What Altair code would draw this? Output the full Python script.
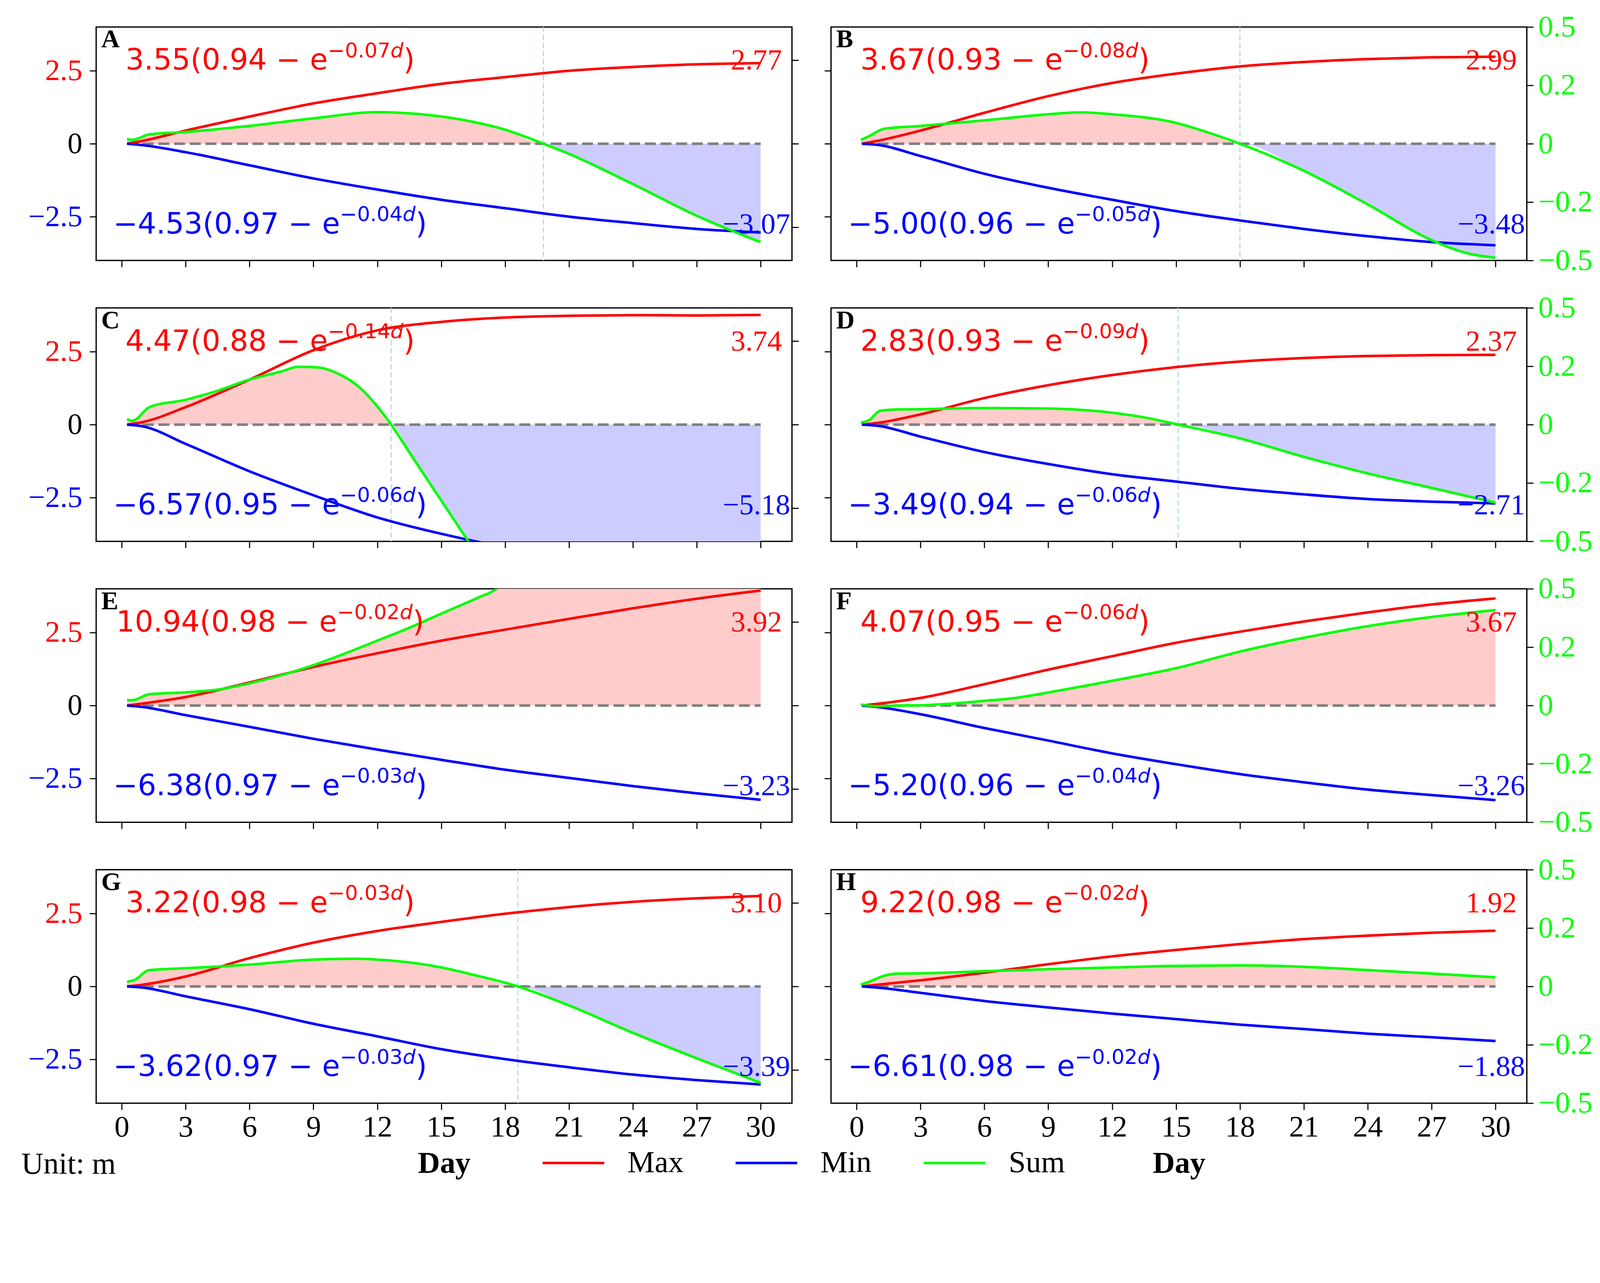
import altair as alt
import pandas as pd

PANELS = ["A", "B", "C", "D", "E", "F", "G", "H"]

# day grid shared by the Max / Min curves
DAYS = [0.25, 1, 3, 6, 9, 12, 15, 18, 21, 24, 27, 30]

MAX_A = [0, 0.10, 0.45, 0.93, 1.38, 1.73, 2.05, 2.28, 2.50, 2.63, 2.72, 2.76]
MIN_A = [0, -0.05, -0.29, -0.74, -1.19, -1.57, -1.92, -2.21, -2.50, -2.72, -2.92, -3.04]
MAX_B = [0, 0.10, 0.45, 1.06, 1.63, 2.08, 2.40, 2.65, 2.80, 2.90, 2.96, 2.98]
MIN_B = [0, -0.04, -0.42, -1.03, -1.51, -1.92, -2.31, -2.63, -2.92, -3.17, -3.37, -3.48]
MAX_C = [0, 0.09, 0.60, 1.54, 2.55, 3.23, 3.52, 3.67, 3.73, 3.75, 3.74, 3.76]
MIN_C = [0, -0.06, -0.66, -1.60, -2.42, -3.18, -3.74, -4.20, -4.55, -4.80, -5.00, -5.18]
MAX_D = [0, 0.06, 0.35, 0.91, 1.35, 1.70, 1.97, 2.16, 2.28, 2.35, 2.38, 2.39]
MIN_D = [0, -0.04, -0.41, -0.94, -1.35, -1.70, -1.95, -2.20, -2.39, -2.55, -2.64, -2.70]
MAX_E = [0, 0.07, 0.29, 0.79, 1.32, 1.79, 2.22, 2.60, 2.97, 3.33, 3.66, 3.94]
MIN_E = [0, -0.05, -0.33, -0.73, -1.14, -1.51, -1.86, -2.20, -2.48, -2.76, -3.01, -3.23]
MAX_F = [0, 0.06, 0.26, 0.73, 1.23, 1.69, 2.15, 2.53, 2.88, 3.19, 3.46, 3.67]
MIN_F = [0, -0.05, -0.30, -0.77, -1.20, -1.64, -2.01, -2.35, -2.63, -2.88, -3.07, -3.24]
MAX_G = [0, 0.06, 0.34, 0.97, 1.50, 1.90, 2.21, 2.49, 2.72, 2.90, 3.02, 3.10]
MIN_G = [0, -0.04, -0.34, -0.78, -1.28, -1.71, -2.15, -2.49, -2.77, -3.02, -3.21, -3.36]
MAX_H = [0, 0.06, 0.21, 0.47, 0.76, 1.03, 1.25, 1.45, 1.62, 1.74, 1.84, 1.91]
MIN_H = [0, -0.04, -0.22, -0.50, -0.72, -0.93, -1.12, -1.31, -1.46, -1.62, -1.74, -1.87]

# Sum curves, in units of each panel's right-hand axis
SUM_A_DAYS = [0.25, 0.5, 1.3, 3, 6, 9, 12, 13.5, 15, 17, 18, 19.8, 21, 24, 27, 30]
SUM_A = [0.028, 0.023, 0.056, 0.070, 0.107, 0.152, 0.189, 0.182, 0.163, 0.117, 0.084, 0,
         -0.061, -0.242, -0.432, -0.590]
SUM_B_DAYS = [0.2, 0.6, 1.3, 3, 6, 9, 10.5, 12, 15, 16.5, 18, 21, 24, 27, 28.5, 30]
SUM_B = [0.016, 0.033, 0.064, 0.076, 0.100, 0.126, 0.134, 0.126, 0.089, 0.048, 0,
         -0.116, -0.260, -0.413, -0.465, -0.489]
SUM_C_DAYS = [0.25, 0.5, 1.3, 3, 4.5, 6, 7.5, 8.3, 9.2, 10.2, 11.2, 12, 12.65, 13.5, 15, 16.5,
              18, 21, 24, 27, 30]
SUM_C = [0.033, 0.023, 0.105, 0.149, 0.203, 0.270, 0.319, 0.347, 0.343, 0.303, 0.219, 0.109, 0,
         -0.165, -0.455, -0.740, -1.000, -1.490, -1.930, -2.280, -2.630]
SUM_D_DAYS = [0.2, 0.6, 1.1, 2, 3, 6, 9, 12, 13.5, 15.1, 18, 21, 24, 27, 30]
SUM_D = [0.008, 0.020, 0.059, 0.065, 0.066, 0.071, 0.069, 0.051, 0.031, 0,
         -0.059, -0.138, -0.209, -0.271, -0.334]
SUM_E_DAYS = [0.25, 0.5, 1.3, 3, 4.5, 6, 7.5, 9, 10.5, 12, 13.5, 15, 16.8, 17.6, 18, 21, 24, 27, 30]
SUM_E = [0.032, 0.032, 0.068, 0.079, 0.095, 0.133, 0.182, 0.242, 0.313, 0.389, 0.466, 0.551,
         0.651, 0.700, 0.750, 1.050, 1.370, 1.680, 2.010]
SUM_F_DAYS = [0.2, 1, 2, 3, 4.5, 6, 7.5, 9, 12, 15, 18, 21, 24, 27, 30]
SUM_F = [0.004, -0.003, 0, 0.001, 0.008, 0.020, 0.033, 0.056, 0.106, 0.160, 0.231, 0.290,
         0.340, 0.379, 0.409]
SUM_G_DAYS = [0.25, 0.6, 1.3, 3, 6, 9, 11, 12, 15, 16.5, 18.6, 21, 24, 27, 30]
SUM_G = [0.028, 0.039, 0.098, 0.109, 0.131, 0.161, 0.166, 0.161, 0.114, 0.070, 0,
         -0.114, -0.278, -0.431, -0.578]
SUM_H_DAYS = [0.2, 0.6, 1.3, 2, 3, 6, 9, 12, 15, 18, 21, 24, 27, 30]
SUM_H = [0.008, 0.020, 0.046, 0.055, 0.056, 0.065, 0.074, 0.081, 0.088, 0.090, 0.084,
         0.070, 0.055, 0.039]

ZERO_DAYS = [0.25, 30]
CROSS_DAYS = [19.8, 18.0, 12.65, 15.1, None, None, 18.6, None]

TOP_COEF = ["3.55", "3.67", "4.47", "2.83", "10.94", "4.07", "3.22", "9.22"]
TOP_CONST = ["0.94", "0.93", "0.88", "0.93", "0.98", "0.95", "0.98", "0.98"]
TOP_RATE = ["0.07", "0.08", "0.14", "0.09", "0.02", "0.06", "0.03", "0.02"]
BOT_COEF = ["−4.53", "−5.00", "−6.57", "−3.49", "−6.38", "−5.20", "−3.62", "−6.61"]
BOT_CONST = ["0.97", "0.96", "0.95", "0.94", "0.97", "0.96", "0.97", "0.98"]
BOT_RATE = ["0.04", "0.05", "0.06", "0.06", "0.03", "0.04", "0.03", "0.02"]
END_MAX = ["2.77", "2.99", "3.74", "2.37", "3.92", "3.67", "3.10", "1.92"]
END_MIN = ["−3.07", "−3.48", "−5.18", "−2.71", "−3.23", "−3.26", "−3.39", "−1.88"]

MAXES = [MAX_A, MAX_B, MAX_C, MAX_D, MAX_E, MAX_F, MAX_G, MAX_H]
MINS = [MIN_A, MIN_B, MIN_C, MIN_D, MIN_E, MIN_F, MIN_G, MIN_H]
SUMS = [SUM_A, SUM_B, SUM_C, SUM_D, SUM_E, SUM_F, SUM_G, SUM_H]
SUM_DAYS = [SUM_A_DAYS, SUM_B_DAYS, SUM_C_DAYS, SUM_D_DAYS, SUM_E_DAYS, SUM_F_DAYS,
            SUM_G_DAYS, SUM_H_DAYS]

RED, BLUE, GREEN = "#ff0000", "#0000ff", "#00ff00"
SERIF, SANS = "Liberation Serif", "DejaVu Sans"
PW, PH = 1907, 640
X_DOMAIN = [-1.2, 31.47]
FS, SUP_FS = 80, 56
LW = 7

# advance widths of DejaVu Sans (em), used to lay out the formula pieces
SANS_W = {".": 0.3179, "(": 0.3901, ")": 0.3901, " ": 0.3179, "−": 0.8379, "e": 0.6152,
          "d": 0.6348}


def sans_width(s, size):
    return sum(SANS_W.get(c, 0.6362) for c in s) * size


COLOR = alt.Color(
    "series:N",
    scale=alt.Scale(domain=["Max", "Min", "Sum"], range=[RED, BLUE, GREEN]),
    legend=alt.Legend(
        orient="none", legendX=1220, legendY=3026, direction="horizontal", title=None,
        symbolType="stroke", symbolSize=28561, symbolStrokeWidth=LW, labelFont=SERIF,
        labelFontSize=84, labelColor="black", labelOffset=60, columnPadding=128, padding=0,
    ),
)


def formula_rows(coef, const, rate, yb, col):
    main = f"{coef}({const} − e"
    sup = f"−{rate}"
    total = sans_width(main, FS) + sans_width(sup + "d", SUP_FS) + sans_width(")", FS)
    x0 = 0.25 * PW - total / 2
    xs = x0 + sans_width(main, FS)
    xd = xs + sans_width(sup, SUP_FS)
    xp = xd + sans_width("d", SUP_FS)
    big = [(x0, yb, main, col), (xp, yb, ")", col)]
    small = [(xs, yb - 34, sup, col)]
    ital = [(xd, yb - 34, "d", col)]
    return big, small, ital


def panel(i):
    row, col = divmod(i, 2)
    left = col == 0
    bottom = row == 3
    n = len(DAYS)

    lines_df = pd.DataFrame({
        "day": DAYS * 2,
        "value": MAXES[i] + MINS[i],
        "series": ["Max"] * n + ["Min"] * n,
    })
    sum_df = pd.DataFrame({"day": SUM_DAYS[i], "sum": SUMS[i]})
    sum_df["series"] = "Sum"
    sum_df["pos"] = sum_df["sum"].clip(lower=0)
    sum_df["neg"] = sum_df["sum"].clip(upper=0)
    zero_df = pd.DataFrame({"day": ZERO_DAYS, "value": [0, 0]})

    x_enc = alt.X(
        "day:Q",
        scale=alt.Scale(domain=X_DOMAIN, nice=False, zero=False),
        axis=alt.Axis(
            values=list(range(0, 31, 3)), labels=bottom, title="Day" if bottom else None,
            labelFlush=False, labelPadding=8, titleFontWeight="bold", titleFontSize=84,
            titlePadding=18,
        ),
    )
    left_scale = alt.Scale(domain=[-4, 4], nice=False, zero=False)
    r = 0.7 if left else 0.5
    right_scale = alt.Scale(domain=[-r, r], nice=False, zero=False)

    y_left = alt.Y(
        "value:Q", scale=left_scale, title=None,
        axis=alt.Axis(
            orient="left", values=[-2.5, 0, 2.5], labels=left, labelPadding=20,
            labelExpr="datum.value > 0 ? '2.5' : datum.value < 0 ? '−2.5' : '0'",
            labelColor={"condition": [{"test": "datum.value > 0", "value": RED},
                                      {"test": "datum.value < 0", "value": BLUE}],
                        "value": "black"},
        ),
    )
    y_sum = alt.Y(
        "sum:Q", scale=right_scale, title=None,
        axis=alt.Axis(
            orient="right",
            values=[-0.5, 0, 0.5] if left else [-0.5, -0.25, 0, 0.25, 0.5],
            labels=not left, labelColor=GREEN, labelAlign="left", labelPadding=13,
            labelExpr=("datum.value > 0.3 ? '\u20020.5' : datum.value > 0.1 ? '\u20020.2' : "
                       "datum.value > -0.1 ? '\u20020' : datum.value > -0.3 ? '−0.2' : '−0.5'"),
        ),
    )

    layers = [
        alt.Chart(sum_df).mark_area(color="#ffcccc", interpolate="monotone", clip=True).encode(
            x=x_enc, y=alt.Y("pos:Q", scale=right_scale, axis=None), y2=alt.datum(0)),
        alt.Chart(sum_df).mark_area(color="#ccccff", interpolate="monotone", clip=True).encode(
            x=x_enc, y=alt.Y("neg:Q", scale=right_scale, axis=None), y2=alt.datum(0)),
        alt.Chart(zero_df).mark_line(color="#7f7f7f", strokeDash=[30, 13], strokeWidth=7).encode(
            x=x_enc, y=alt.Y("value:Q", scale=left_scale, axis=None)),
    ]
    if CROSS_DAYS[i] is not None:
        layers.append(
            alt.Chart(pd.DataFrame({"day": [CROSS_DAYS[i]]}))
            .mark_rule(color="#add8e6", strokeDash=[14, 8], strokeWidth=3)
            .encode(x=x_enc)
        )
    layers += [
        alt.Chart(lines_df).mark_line(strokeWidth=LW, interpolate="monotone", clip=True).encode(
            x=x_enc, y=y_left, color=COLOR),
        alt.Chart(sum_df).mark_line(strokeWidth=LW, interpolate="monotone", clip=True).encode(
            x=x_enc, y=y_sum, color=COLOR),
    ]

    b1, s1, d1 = formula_rows(TOP_COEF[i], TOP_CONST[i], TOP_RATE[i], 117, RED)
    b2, s2, d2 = formula_rows(BOT_COEF[i], BOT_CONST[i], BOT_RATE[i], 566, BLUE)
    cols = ["px", "py", "txt", "col"]
    end_x = (29.8 - X_DOMAIN[0]) / (X_DOMAIN[1] - X_DOMAIN[0]) * PW
    ends = [(end_x, 117, END_MAX[i], RED), (end_x, 566, END_MIN[i], BLUE)]

    def text_layer(rows, **kw):
        return alt.Chart(pd.DataFrame(rows, columns=cols)).mark_text(
            baseline="alphabetic", **kw
        ).encode(
            x=alt.X("px:Q", scale=None, axis=None),
            y=alt.Y("py:Q", scale=None, axis=None),
            text="txt:N",
            color=alt.Color("col:N", scale=None),
        )

    layers += [
        text_layer(b1 + b2, font=SANS, fontSize=FS, align="left"),
        text_layer(s1 + s2, font=SANS, fontSize=SUP_FS, align="left"),
        text_layer(d1 + d2, font=SANS, fontSize=SUP_FS, align="left", fontStyle="italic"),
        text_layer(ends, font=SERIF, fontSize=80, align="center"),
        text_layer([(14, 56, PANELS[i], "black")], font=SERIF, fontSize=70, align="left",
                   fontWeight="bold"),
    ]
    if i == 6:
        layers.append(text_layer([(-205, 833, "Unit: m", "black")], font=SERIF, fontSize=84,
                                 align="left"))

    return alt.layer(*layers).resolve_scale(y="independent").properties(width=PW, height=PH)


chart = (
    alt.concat(*[panel(i) for i in range(8)], columns=2,
               spacing={"row": 130, "column": 107}, bounds="flush")
    .properties(padding={"left": 48, "top": -88, "right": 10, "bottom": 10})
    .configure_view(stroke="black", strokeWidth=3.5)
    .configure_axis(
        labelFont=SERIF, titleFont=SERIF, labelFontSize=82, titleFontSize=84,
        labelColor="black", titleColor="black", tickColor="black", tickWidth=3, tickSize=18,
        domain=False, grid=False,
    )
)

chart.save("out.html", embed_options={"renderer": "svg", "actions": False})
